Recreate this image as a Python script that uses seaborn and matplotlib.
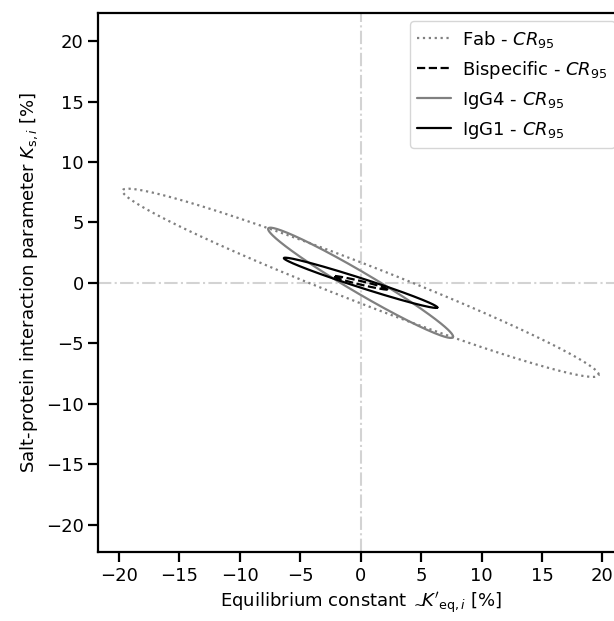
import numpy as np
import pandas as pd
import matplotlib
matplotlib.use("Agg")
import matplotlib.pyplot as plt
import seaborn as sns

# Confidence-region ellipses (centred at origin):
# x_tip/y_tip = point of the ellipse with the largest x, half_h = half height at x = 0
names = ["Fab", "Bispecific", "IgG4", "IgG1"]
x_tip = [19.7, 2.3, 7.65, 6.35]
y_tip = [-7.6, -0.55, -4.45, -2.04]
half_h = [1.7, 0.15, 1.0, 0.4]

colors = ["gray", "black", "gray", "black"]
styles = [":", "--", "-", "-"]

sns.set_style("ticks")
plt.rcParams["font.family"] = ["DejaVu Sans"]
plt.rcParams["mathtext.fontset"] = "dejavusans"
for k in ["text.color", "axes.labelcolor", "xtick.color", "ytick.color",
          "xtick.labelcolor", "ytick.labelcolor"]:
    plt.rcParams[k] = "black"

fig = plt.figure(figsize=(6.14, 6.21), dpi=100)
ax = fig.add_axes([0.160, 0.1106, 0.8546, 0.868])

t = np.linspace(0, 2 * np.pi, 400)
rows = []
for n, xt, yt, h in zip(names, x_tip, y_tip, half_h):
    for i, ti in enumerate(t):
        rows.append({"name": n, "order": i,
                     "x": xt * np.cos(ti),
                     "y": yt * np.cos(ti) + h * np.sin(ti)})
df = pd.DataFrame(rows)

ax.axhline(0, color="lightgray", ls="-.", lw=1.5, zorder=0)
ax.axvline(0, color="lightgray", ls="-.", lw=1.5, zorder=0)

for n, c, s in zip(names, colors, styles):
    sub = df[df["name"] == n]
    sns.lineplot(data=sub, x="x", y="y", sort=False, estimator=None, ax=ax,
                 color=c, linestyle=s, lw=1.6, label=n + r" - $CR_{95}$")

ax.set_xlim(-21.7, 21.7)
ax.set_ylim(-22.3, 22.3)
ax.set_xticks(np.arange(-20, 21, 5))
ax.set_yticks(np.arange(-20, 21, 5))
ax.tick_params(labelsize=13, length=7, width=1.6, color="black", labelcolor="black")
for sp in ax.spines.values():
    sp.set_linewidth(1.6)
    sp.set_color("black")

ax.set_xlabel(r"Equilibrium constant$\;{}_{\sim}\!\!K'_{\mathrm{eq},i}$ [%]", fontsize=13)
ax.set_ylabel(r"Salt-protein interaction parameter $K_{\mathrm{s},i}$ [%]", fontsize=13)

ax.legend(loc="upper right", fontsize=13, frameon=True, handlelength=1.9,
          handletextpad=0.6, borderaxespad=0.45)

fig.savefig("out.png", dpi=100)
